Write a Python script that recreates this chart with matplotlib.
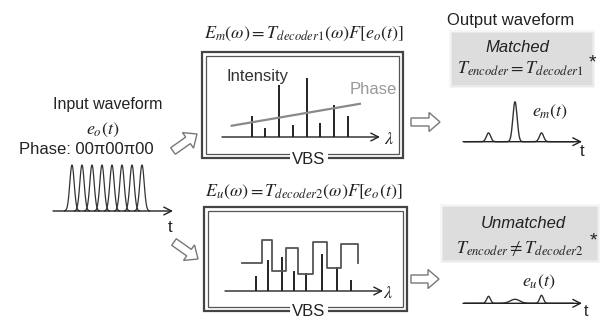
import numpy as np
import matplotlib
matplotlib.use("Agg")
import matplotlib.pyplot as plt
from matplotlib.patches import Rectangle, FancyArrow

plt.rcParams['font.family'] = ['Liberation Sans', 'DejaVu Sans']
plt.rcParams['mathtext.fontset'] = 'stix'

W, H = 606, 320
INK = '#222222'

# input code: 8 chips, phase pattern written as text
chip_pos = np.arange(8)
chip_amp = np.ones(8)
phase_code = '00\u03c000\u03c000'

# matched decoder (VBS 1): line intensities and linear phase
spec1_pos = np.arange(8)
spec1_int = [0.35, 0.16, 0.88, 0.20, 1.00, 0.23, 0.54, 0.35]
phase1_x = [-1.46, 7.9]
phase1_y = [0.19, 0.56]

# unmatched decoder (VBS 2): line intensities and stepped phase
spec2_pos = [0, 0.93, 1.92, 2.85, 3.71, 4.91, 5.97, 7.02]
spec2_int = [0.25, 0.53, 0.58, 0.33, 0.30, 0.62, 0.40, 0.19]
phase2_edges = [-1.03, 0.44, 1.22, 2.21, 3.13, 4.19, 5.22, 6.27, 7.54]
phase2_level = [0.47, 0.86, 0.34, 0.72, 0.29, 0.82, 0.38, 0.79, 0.47]

# decoded outputs: peak positions, amplitudes, widths
out_m_pos = [-1, 0, 1]
out_m_amp = [0.22, 1.0, 0.22]
out_m_wid = [0.08, 0.08, 0.08]
out_u_pos = [-1, 0, 1]
out_u_amp = [0.175, 0.10, 0.20]
out_u_wid = [0.07, 0.18, 0.07]


def px_axes(fig, x0, y0, x1, y1):
    # axes placed by pixel box (y measured from the top)
    a = fig.add_axes([x0 / W, 1 - y1 / H, (x1 - x0) / W, (y1 - y0) / H])
    a.axis('off')
    a.patch.set_alpha(0)
    return a


def arrow_axis(a):
    a.annotate('', xy=(1, 0), xycoords=('axes fraction', 'data'),
               xytext=(0, 0), textcoords=('axes fraction', 'data'),
               arrowprops=dict(arrowstyle='->,head_length=0.55,head_width=0.28',
                               lw=1.0, color=INK, shrinkA=0, shrinkB=0,
                               mutation_scale=10))


def pulse(t, c, a, w):
    return a * np.exp(-0.5 * ((t - c) / w) ** 2)


def frame(ax, x0, y0, x1, y1, label_x):
    ax.add_patch(Rectangle((x0, y0), x1 - x0, y1 - y0, fill=False,
                           ec='#444444', lw=1.6))
    g = 4
    ax.add_patch(Rectangle((x0 + g, y0 + g), x1 - x0 - 2 * g, y1 - y0 - 2 * g,
                           fill=False, ec='#555555', lw=0.9))
    ax.text(label_x, y1 + 1, 'VBS', ha='center', va='center', fontsize=12,
            color=INK, bbox=dict(fc='white', ec='none', pad=1.5))


def gray_box(ax, x0, y0, x1, y1):
    for k, al in [(3, 0.25), (1.5, 0.5), (0, 1.0)]:
        ax.add_patch(Rectangle((x0 - k, y0 - k), x1 - x0 + 2 * k, y1 - y0 + 2 * k,
                               fc='#dddddd', ec='none', alpha=al))


fig = plt.figure(figsize=(W / 100, H / 100), dpi=100)
ax = fig.add_axes([0, 0, 1, 1])
ax.set_xlim(0, W)
ax.set_ylim(H, 0)
ax.axis('off')

# ---- input side
ax.text(108, 105, 'Input waveform', ha='center', va='center', fontsize=11.5, color=INK)
ax.text(103, 130, r'$e_o\left(t\right)$', ha='center', va='center', fontsize=13, color=INK)
ax.text(86, 150, 'Phase: ' + phase_code, ha='center', va='center', fontsize=12, color=INK)
ax.text(170, 227, 't', ha='center', va='center', fontsize=12, color=INK)

a_in = px_axes(fig, 53, 160, 173, 230)
a_in.set_xlim(-1.9, 10.1)
a_in.set_ylim(-(230 - 211) / 46, (211 - 160) / 46)
for c, amp in zip(chip_pos, chip_amp):
    tt = np.linspace(c - 0.75, c + 0.75, 80)
    a_in.plot(tt, pulse(tt, c, amp, 0.22), color='#333333', lw=0.9)
arrow_axis(a_in)

# ---- arrows into and out of the two VBS
for (x, y, dx, dy) in [(173, 151, 24, -17), (174, 242, 24, 17),
                       (411, 122, 29, 0), (411, 279, 28, 0)]:
    ax.add_patch(FancyArrow(x, y, dx, dy, width=8, head_width=19, head_length=11,
                            length_includes_head=True, fc='white', ec='#777777', lw=1.0))

# ---- matched VBS
ax.text(304, 34, r'$E_m\left(\omega\right)=T_{decoder1}\left(\omega\right)F\left[e_o\left(t\right)\right]$',
        ha='center', va='center', fontsize=13, color=INK)
frame(ax, 202, 52, 403, 158, 309)
ax.text(227, 76, 'Intensity', ha='left', va='center', fontsize=12, color='#333333')
ax.text(373, 89, 'Phase', ha='center', va='center', fontsize=12, color='#999999')
ax.text(389, 139, r'$\lambda$', ha='center', va='center', fontsize=13, color=INK)

a1 = px_axes(fig, 222, 65, 380, 150)
a1.set_xlim((222 - 251.7) / 13.7, (380 - 251.7) / 13.7)
a1.set_ylim(-(150 - 137) / 59.3, (137 - 65) / 59.3)
a1.vlines(spec1_pos, 0, spec1_int, color='#222222', lw=1.4)
a1.plot(phase1_x, phase1_y, color='#8a8a8a', lw=1.6)
arrow_axis(a1)

# ---- unmatched VBS
ax.text(304, 192, r'$E_u\left(\omega\right)=T_{decoder2}\left(\omega\right)F\left[e_o\left(t\right)\right]$',
        ha='center', va='center', fontsize=13, color=INK)
frame(ax, 204, 207, 407, 311, 309)
ax.text(388, 294, r'$\lambda$', ha='center', va='center', fontsize=13, color=INK)

a2 = px_axes(fig, 225, 225, 383, 300)
a2.set_xlim((225 - 255.7) / 13.6, (383 - 255.7) / 13.6)
a2.set_ylim(-(300 - 291) / 59.3, (291 - 225) / 59.3)
a2.vlines(spec2_pos, 0, spec2_int, color='#222222', lw=1.4)
a2.step(phase2_edges, phase2_level, where='post', color='#555555', lw=1.3)
arrow_axis(a2)

# ---- outputs
ax.text(511, 20, 'Output waveform', ha='center', va='center', fontsize=12, color=INK)
gray_box(ax, 452, 33, 592, 85)
ax.text(517, 48, 'Matched', ha='center', va='center', fontsize=12, style='italic', color=INK)
ax.text(520, 69, r'$T_{encoder}=T_{decoder1}$', ha='center', va='center', fontsize=13, color=INK)
ax.text(592, 63, '*', ha='center', va='center', fontsize=14, color=INK)

gray_box(ax, 443, 207, 597, 260)
ax.text(523, 223, 'Unmatched', ha='center', va='center', fontsize=12, style='italic', color=INK)
ax.text(520, 249, r'$T_{encoder}\neq T_{decoder2}$', ha='center', va='center', fontsize=13, color=INK)
ax.text(593, 241, '*', ha='center', va='center', fontsize=14, color=INK)

a3 = px_axes(fig, 463, 95, 582, 150)
a3.set_xlim((463 - 515) / 26.5, (582 - 515) / 26.5)
a3.set_ylim(-(150 - 141.7) / 40, (141.7 - 95) / 40)
tt = np.linspace(-1.9, 2.2, 600)
a3.plot(tt, sum(pulse(tt, c, a, w) for c, a, w in zip(out_m_pos, out_m_amp, out_m_wid)),
        color='#333333', lw=1.0)
arrow_axis(a3)
ax.text(550, 112, r'$e_m\left(t\right)$', ha='center', va='center', fontsize=13, color=INK)
ax.text(582, 152, 't', ha='center', va='center', fontsize=12, color=INK)

a4 = px_axes(fig, 463, 280, 582, 310)
a4.set_xlim((463 - 515) / 26.5, (582 - 515) / 26.5)
a4.set_ylim(-(310 - 303.3) / 40, (303.3 - 280) / 40)
a4.plot(tt, sum(pulse(tt, c, a, w) for c, a, w in zip(out_u_pos, out_u_amp, out_u_wid)),
        color='#333333', lw=1.0)
arrow_axis(a4)
ax.text(539, 282, r'$e_u\left(t\right)$', ha='center', va='center', fontsize=13, color=INK)
ax.text(586, 312, 't', ha='center', va='center', fontsize=11.5, color=INK)

fig.savefig('out.png', dpi=100)
